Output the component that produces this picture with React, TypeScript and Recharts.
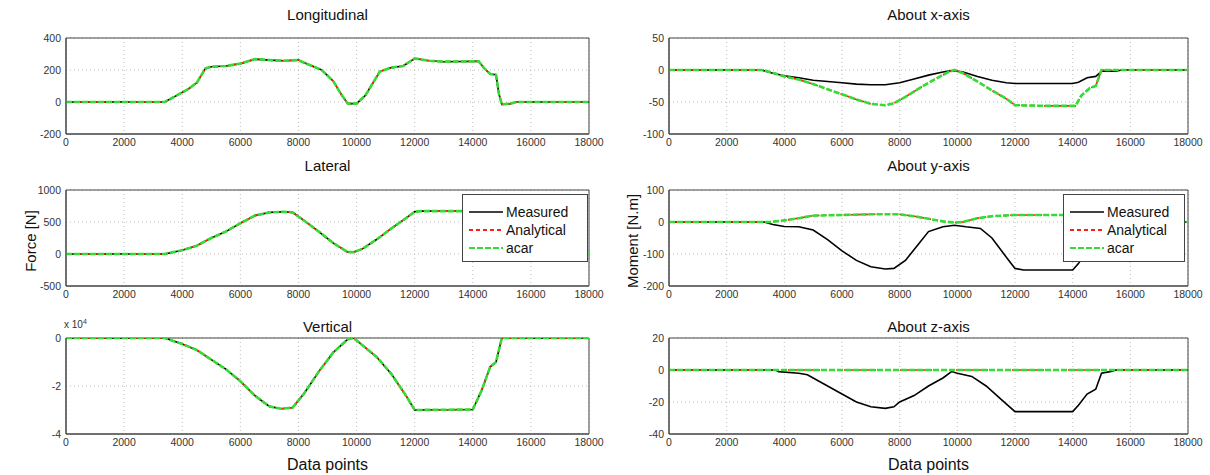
import React from "react";
import { LineChart, Line, XAxis, YAxis, CartesianGrid, ReferenceArea } from "recharts";

type Pt = [number, number];

// shared x axis (data points)
const xTicks = [0, 2000, 4000, 6000, 8000, 10000, 12000, 14000, 16000, 18000];
const seriesNames = ["Measured", "Analytical", "acar"];

// Longitudinal force [N] - all three curves sit on top of each other
const longForce: Pt[] = [
  [0, 0], [3400, 0], [3800, 40], [4200, 80], [4500, 120], [4800, 210], [5000, 220],
  [5500, 225], [6000, 240], [6500, 268], [7000, 262], [7500, 258], [8000, 262],
  [8200, 245], [8800, 200], [9200, 130], [9500, 40], [9700, -10], [10000, -10],
  [10300, 40], [10800, 190], [11200, 215], [11600, 225], [12000, 272], [12500, 258],
  [13000, 252], [14200, 255], [14400, 210], [14600, 175], [14800, 170], [14900, 50],
  [15000, -15], [15300, -10], [15500, 0], [18000, 0],
];

// Lateral force [N]
const latForce: Pt[] = [
  [0, 0], [3400, 0], [4000, 60], [4500, 130], [5000, 250], [5500, 350], [6000, 480],
  [6500, 600], [7000, 650], [7500, 660], [7800, 650], [8200, 520], [8700, 350],
  [9200, 170], [9700, 30], [9900, 30], [10200, 80], [10700, 230], [11200, 400],
  [11700, 560], [12000, 660], [12200, 670], [14000, 670], [14300, 450], [14600, 250],
  [14800, 200], [15000, 0], [18000, 0],
];

// Vertical force [N]
const vertForce: Pt[] = [
  [0, 0], [3400, 0], [4000, -2500], [4500, -5000], [5000, -9000], [5500, -13000],
  [6000, -18000], [6500, -24000], [7000, -28500], [7400, -29500], [7800, -29000],
  [8200, -23000], [8700, -14000], [9200, -6000], [9700, -500], [9900, 0], [10200, -3000],
  [10700, -8000], [11200, -15000], [11700, -24000], [12000, -30000], [14000, -29800],
  [14300, -22000], [14600, -12000], [14800, -10000], [15000, 0], [18000, 0],
];

// Moment about x-axis [N.m]
const mxMeasured: Pt[] = [
  [0, 0], [3200, 0], [3600, -5], [4000, -9], [4500, -12], [5000, -16], [5500, -18],
  [6000, -20], [6500, -22], [7000, -23], [7500, -23], [8000, -20], [8500, -14],
  [9000, -8], [9500, -3], [9800, -1], [10200, -3], [10700, -10], [11200, -16],
  [11700, -20], [12000, -21], [14000, -21], [14200, -19], [14500, -12], [14800, -10],
  [15000, -2], [15500, -2], [15700, 0], [18000, 0],
];
const mxModel: Pt[] = [
  [0, 0], [3200, 0], [3500, -3], [4000, -10], [4500, -15], [5000, -22], [5500, -30],
  [6000, -38], [6500, -46], [7000, -53], [7500, -55], [7800, -52], [8200, -42],
  [8700, -28], [9200, -15], [9700, -3], [9900, 0], [10200, -5], [10700, -18],
  [11200, -32], [11700, -45], [12000, -55], [13000, -56], [14100, -56], [14300, -40],
  [14600, -28], [14800, -25], [15000, 0], [18000, 0],
];

// Moment about y-axis [N.m]
const myMeasured: Pt[] = [
  [0, 0], [3300, 0], [3600, -8], [4000, -14], [4500, -15], [5000, -25], [5500, -55],
  [6000, -90], [6500, -120], [7000, -140], [7500, -147], [7800, -145], [8200, -120],
  [8600, -75], [9000, -30], [9500, -15], [9900, -10], [10300, -15], [10800, -20],
  [11200, -50], [11700, -110], [12000, -145], [12300, -150], [14000, -150],
  [14200, -130], [14500, -90], [14800, -40], [15000, -5], [15500, 0], [18000, 0],
];
const myModel: Pt[] = [
  [0, 0], [3500, 0], [4000, 5], [4500, 12], [5000, 20], [6000, 22], [7000, 24],
  [8000, 24], [8500, 18], [9000, 10], [9500, 2], [9900, -2], [10200, 0], [10700, 12],
  [11200, 18], [12000, 22], [14200, 22], [14500, 15], [15000, 0], [18000, 0],
];

// Moment about z-axis [N.m]
const mzMeasured: Pt[] = [
  [0, 0], [3700, 0], [3800, -1], [4500, -2], [4800, -3], [5000, -5], [5500, -10],
  [6000, -15], [6500, -20], [7000, -23], [7500, -24], [7800, -23], [8000, -20],
  [8500, -16], [9000, -10], [9500, -5], [9800, -1], [10000, -2], [10500, -4],
  [11000, -10], [11500, -18], [12000, -26], [14000, -26], [14200, -22], [14500, -15],
  [14800, -12], [15000, -2], [15300, -1], [15500, 0], [18000, 0],
];
const mzModel: Pt[] = [[0, 0], [18000, 0]];

const FONT = '"Liberation Sans", Arial, Helvetica, sans-serif';
const COLORS = ["#000000", "#ff1a1a", "#33dd33"];
const DASH = [undefined, "4 3", "6 2"];
const WIDTHS = [1.6, 1.6, 2.6];

const rows = (pts: Pt[]) => pts.map(([x, y]) => ({ x, y }));

const PW_LEFT = 523;
const PW_RIGHT = 519;
const PH = 96;
const YW = 52;
const MT = 6;
const MR = 22;
const XH = 22;

function Panel({
  plotLeft, plotTop, plotWidth, domain, yTicks, curves, fmt,
}: {
  plotLeft: number; plotTop: number; plotWidth: number;
  domain: [number, number]; yTicks: number[]; curves: Pt[][];
  fmt?: (v: number) => string;
}) {
  const w = YW + plotWidth + MR;
  const h = MT + PH + XH;
  return (
    <div style={{ position: "absolute", left: plotLeft - YW, top: plotTop - MT }}>
      <LineChart width={w} height={h} margin={{ top: MT, right: MR, bottom: 0, left: 0 }}>
        <CartesianGrid stroke="#bdbdbd" strokeDasharray="1 3" />
        <XAxis
          type="number" dataKey="x" domain={[0, 18000]} ticks={xTicks}
          height={XH} tickLine={false} tickSize={3} tickMargin={2}
          axisLine={{ stroke: "#444" }} interval={0}
          tick={{ fontSize: 10.5, fill: "#333", fontFamily: FONT }}
        />
        <YAxis
          type="number" domain={domain} ticks={yTicks} width={YW} interval={0}
          tickLine={false} tickSize={3} tickMargin={2} axisLine={{ stroke: "#444" }}
          tickFormatter={fmt} allowDataOverflow
          tick={{ fontSize: 10.5, fill: "#333", fontFamily: FONT }}
        />
        <ReferenceArea x1={0} x2={18000} y1={domain[0]} y2={domain[1]} fill="none" stroke="#444" />
        {curves.map((pts, i) => (
          <Line
            key={seriesNames[i]} name={seriesNames[i]} data={rows(pts)} dataKey="y"
            type="linear" stroke={COLORS[i]} strokeWidth={WIDTHS[i]}
            strokeDasharray={DASH[i]} dot={false} isAnimationActive={false}
          />
        ))}
      </LineChart>
    </div>
  );
}

function LegendBox({ left, top, width }: { left: number; top: number; width: number }) {
  return (
    <div
      style={{
        position: "absolute", left, top, width, height: 68, background: "#fff",
        border: "1px solid #444", boxSizing: "border-box", padding: "8px 0 0 6px",
        fontFamily: FONT, fontSize: 14, color: "#111",
      }}
    >
      {seriesNames.map((n, i) => (
        <div key={n} style={{ display: "flex", alignItems: "center", height: 18 }}>
          <svg width={34} height={6} style={{ marginRight: 3 }}>
            <line x1={0} y1={3} x2={34} y2={3} stroke={COLORS[i]} strokeWidth={i === 0 ? 1.6 : 2} strokeDasharray={DASH[i]} />
          </svg>
          <span>{n}</span>
        </div>
      ))}
    </div>
  );
}

function Text({ x, y, size, children, rotate }: { x: number; y: number; size: number; children: React.ReactNode; rotate?: boolean }) {
  return (
    <div
      style={{
        position: "absolute", left: x, top: y, fontFamily: FONT, fontSize: size, color: "#111",
        whiteSpace: "nowrap", transform: `translate(-50%, -50%)${rotate ? " rotate(-90deg)" : ""}`,
      }}
    >
      {children}
    </div>
  );
}

export default function App() {
  const L = 66;
  const R = 669;
  const tops = [38, 190, 338];
  const cl = L + PW_LEFT / 2;
  const cr = R + PW_RIGHT / 2;
  return (
    <div style={{ position: "absolute", left: 0, top: 0, width: 1210, height: 475, background: "#fff", overflow: "hidden" }}>
      <Panel plotLeft={L} plotTop={tops[0]} plotWidth={PW_LEFT} domain={[-200, 400]} yTicks={[-200, 0, 200, 400]}
        curves={[longForce, longForce, longForce]} />
      <Panel plotLeft={L} plotTop={tops[1]} plotWidth={PW_LEFT} domain={[-500, 1000]} yTicks={[-500, 0, 500, 1000]}
        curves={[latForce, latForce, latForce]} />
      <Panel plotLeft={L} plotTop={tops[2]} plotWidth={PW_LEFT} domain={[-40000, 0]} yTicks={[-40000, -20000, 0]}
        curves={[vertForce, vertForce, vertForce]} fmt={(v) => String(v / 10000)} />
      <Panel plotLeft={R} plotTop={tops[0]} plotWidth={PW_RIGHT} domain={[-100, 50]} yTicks={[-100, -50, 0, 50]}
        curves={[mxMeasured, mxModel, mxModel]} />
      <Panel plotLeft={R} plotTop={tops[1]} plotWidth={PW_RIGHT} domain={[-200, 100]} yTicks={[-200, -100, 0, 100]}
        curves={[myMeasured, myModel, myModel]} />
      <Panel plotLeft={R} plotTop={tops[2]} plotWidth={PW_RIGHT} domain={[-40, 20]} yTicks={[-40, -20, 0, 20]}
        curves={[mzMeasured, mzModel, mzModel]} />

      <LegendBox left={462} top={194} width={126} />
      <LegendBox left={1063} top={194} width={122} />

      <Text x={cl} y={14} size={15}>Longitudinal</Text>
      <Text x={cl} y={165} size={15}>Lateral</Text>
      <Text x={cl} y={326} size={15}>Vertical</Text>
      <Text x={cr} y={14} size={15}>About x-axis</Text>
      <Text x={cr} y={165} size={15}>About y-axis</Text>
      <Text x={cr} y={326} size={15}>About z-axis</Text>
      <Text x={cl} y={465} size={16}>Data points</Text>
      <Text x={cr} y={465} size={16}>Data points</Text>
      <Text x={30} y={241} size={15} rotate>Force [N]</Text>
      <Text x={632} y={241} size={15} rotate>Moment [N.m]</Text>
      <div style={{ position: "absolute", left: 64, top: 318, fontFamily: FONT, fontSize: 10, color: "#333" }}>
        x 10<sup style={{ fontSize: 7 }}>4</sup>
      </div>
    </div>
  );
}
